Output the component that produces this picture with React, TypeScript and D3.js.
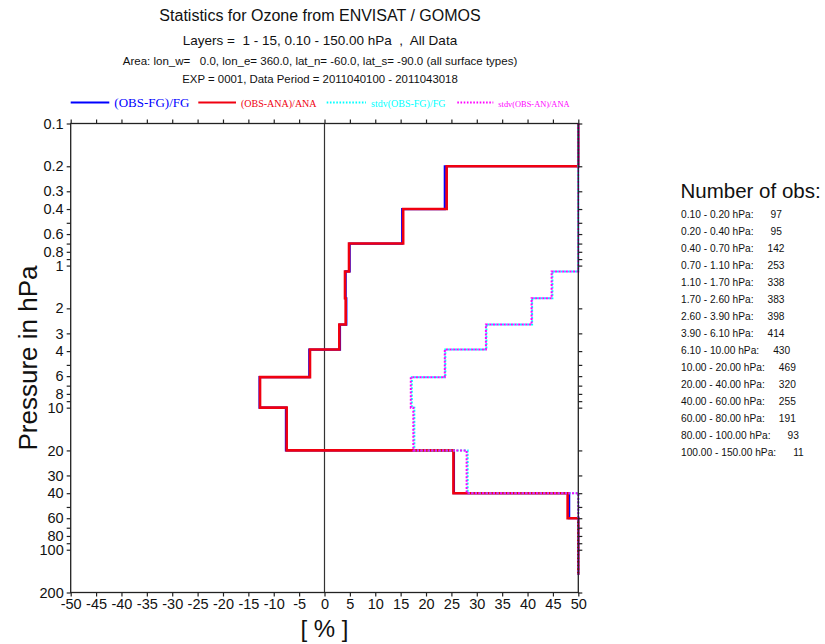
import React, { useRef, useEffect } from 'react';
import * as d3 from 'd3';

// layer boundaries (hPa), 15 layers
const pressureBounds = [0.1, 0.2, 0.4, 0.7, 1.1, 1.7, 2.6, 3.9, 6.1, 10, 20, 40, 60, 80, 100, 150];
// values in %, values off the axis are drawn at the edge (50)
const fgBias = [50, 23.7, 15.3, 4.96, 4.17, 4.3, 3.05, -3.0, -12.8, -7.6, 25.5, 48.2, 50, 50, 50];
const anaBias = [50, 24.07, 15.5, 4.83, 4.04, 4.17, 2.92, -2.86, -12.7, -7.45, 25.4, 47.9, 50, 50, 50];
const fgStdv = [50, 50, 50, 50, 44.9, 40.9, 31.9, 23.8, 17.2, 17.7, 28.2, 50, 50, 50, 50];
const anaStdv = [50, 50, 50, 50, 44.75, 40.8, 31.8, 23.7, 17.0, 17.5, 28.0, 50, 50, 50, 50];
const obsCounts = [97, 95, 142, 253, 338, 383, 398, 414, 430, 469, 320, 255, 191, 93, 11];

const seriesNames = ['(OBS-FG)/FG', '(OBS-ANA)/ANA', 'stdv(OBS-FG)/FG', 'stdv(OBS-AN)/ANA'];
const seriesColors = ['#0000ff', '#f00010', '#00ffff', '#ff00ff'];

const xTicks = d3.range(-50, 51, 5);
const yTickLabels = [0.1, 0.2, 0.3, 0.4, 0.6, 0.8, 1, 2, 3, 4, 6, 8, 10, 20, 30, 40, 60, 80, 100, 200];

const titleLines = [
  'Statistics for Ozone from ENVISAT / GOMOS',
  'Layers =  1 - 15, 0.10 - 150.00 hPa  ,  All Data',
  'Area: lon_w=   0.0, lon_e= 360.0, lat_n= -60.0, lat_s= -90.0 (all surface types)',
  'EXP = 0001, Data Period = 2011040100 - 2011043018',
];

const SANS = '"Liberation Sans", Arial, sans-serif';
const SERIF = '"Liberation Serif", "Times New Roman", serif';

const OzoneStatsChart = () => {
  const svgRef = useRef<SVGSVGElement>(null);

  useEffect(() => {
    const svg = d3.select(svgRef.current);
    svg.selectAll('*').remove();

    const left = 70.7, right = 578.3, top = 123.5, bottom = 592.5;

    const x = d3.scaleLinear().domain([-50, 50]).range([left, right]).clamp(true);
    const y = d3.scaleLog().domain([0.1, 200]).range([top, bottom]);

    // titles
    const titleSizes = [16, 13.5, 11.5, 11.4];
    const titleY = [21, 44.5, 64.5, 82.5];
    titleLines.forEach((t, i) => {
      svg.append('text')
        .attr('x', 320)
        .attr('y', titleY[i])
        .attr('text-anchor', 'middle')
        .style('font-family', SANS)
        .style('font-size', `${titleSizes[i]}px`)
        .style('white-space', 'pre')
        .attr('fill', '#111')
        .text(t);
    });

    // legend
    const legendLine = [[70.7, 109.3], [198.3, 236], [326.7, 366], [457.3, 493.3]];
    const legendFont = [13, 10, 10, 8.4];
    seriesNames.forEach((name, i) => {
      svg.append('line')
        .attr('x1', legendLine[i][0]).attr('x2', legendLine[i][1])
        .attr('y1', 102.5).attr('y2', 102.5)
        .attr('stroke', seriesColors[i])
        .attr('stroke-width', 2)
        .attr('stroke-dasharray', i > 1 ? '1.6,1.6' : null);
      svg.append('text')
        .attr('x', legendLine[i][1] + 5)
        .attr('y', 106.5)
        .style('font-family', SERIF)
        .style('font-size', `${legendFont[i]}px`)
        .attr('fill', seriesColors[i])
        .text(name);
    });

    // zero line
    svg.append('line')
      .attr('x1', x(0)).attr('x2', x(0))
      .attr('y1', top).attr('y2', bottom)
      .attr('stroke', '#333')
      .attr('stroke-width', 1.2);

    // step profiles
    const line = d3.line<[number, number]>()
      .x(d => x(d[0]))
      .y(d => y(d[1]));
    const steps = (vals: number[]) =>
      vals.flatMap((v, i) => [[v, pressureBounds[i]], [v, pressureBounds[i + 1]]] as [number, number][]);

    const profiles = [fgBias, anaBias, fgStdv, anaStdv];
    const widths = [2.2, 2.6, 2, 2];
    profiles.forEach((vals, i) => {
      svg.append('path')
        .attr('d', line(steps(vals)))
        .attr('fill', 'none')
        .attr('stroke', seriesColors[i])
        .attr('stroke-width', widths[i])
        .attr('stroke-dasharray', i > 1 ? '2,1.6' : null)
        .attr('stroke-dashoffset', i === 2 ? 1.8 : 0);
    });

    // frame
    svg.append('rect')
      .attr('x', left).attr('y', top)
      .attr('width', right - left).attr('height', bottom - top)
      .attr('fill', 'none')
      .attr('stroke', '#222')
      .attr('stroke-width', 1.3);

    const axisStyle = (g: any) => {
      g.select('.domain').remove();
      g.selectAll('.tick line').attr('stroke', '#222').attr('stroke-width', 1.2);
      g.selectAll('.tick text')
        .attr('fill', '#111')
        .style('font-family', SANS)
        .style('font-size', '14.5px');
    };

    svg.append('g')
      .attr('transform', `translate(0,${bottom})`)
      .call(d3.axisBottom(x).tickValues(xTicks).tickSize(4).tickPadding(2).tickFormat(d => String(d)))
      .call(axisStyle);

    svg.append('g')
      .attr('transform', `translate(0,${top})`)
      .call(d3.axisTop(x).tickValues(xTicks).tickSize(4).tickFormat(() => ''))
      .call(axisStyle);

    svg.append('g')
      .attr('transform', `translate(${left},0)`)
      .call(d3.axisLeft(y).tickValues(y.ticks()).tickSize(4).tickPadding(3)
        .tickFormat(d => (yTickLabels.some(v => Math.abs(v - (d as number)) < 1e-9) ? String(+d) : '')))
      .call(axisStyle);

    svg.append('g')
      .attr('transform', `translate(${right},0)`)
      .call(d3.axisRight(y).tickValues(y.ticks()).tickSize(4).tickFormat(() => ''))
      .call(axisStyle);

    // axis labels
    svg.append('text')
      .attr('transform', `translate(37,${(top + bottom) / 2}) rotate(-90)`)
      .attr('text-anchor', 'middle')
      .style('font-family', SANS)
      .style('font-size', '26px')
      .attr('fill', '#111')
      .text('Pressure in hPa');

    svg.append('text')
      .attr('x', x(0))
      .attr('y', 637)
      .attr('text-anchor', 'middle')
      .style('font-family', SANS)
      .style('font-size', '24px')
      .style('white-space', 'pre')
      .attr('fill', '#111')
      .text('[ % ]');

    // number of obs panel
    svg.append('text')
      .attr('x', 680.5)
      .attr('y', 198)
      .style('font-family', SANS)
      .style('font-size', '20.5px')
      .attr('fill', '#111')
      .text('Number of obs:');

    obsCounts.forEach((n, i) => {
      const lo = pressureBounds[i].toFixed(2);
      const hi = pressureBounds[i + 1].toFixed(2);
      const row = svg.append('text')
        .attr('x', 681)
        .attr('y', 217.5 + i * 17)
        .style('font-family', SANS)
        .style('font-size', '10.2px')
        .attr('fill', '#111');
      row.append('tspan').text(`${lo} - ${hi} hPa:`);
      row.append('tspan').attr('dx', n >= 100 ? 14 : 17).text(String(n));
    });
  }, []);

  return (
    <svg
      ref={svgRef}
      width={825}
      height={644}
      style={{ position: 'absolute', left: 0, top: 0, background: '#fff' }}
    />
  );
};

export default function App() {
  return <OzoneStatsChart />;
}
